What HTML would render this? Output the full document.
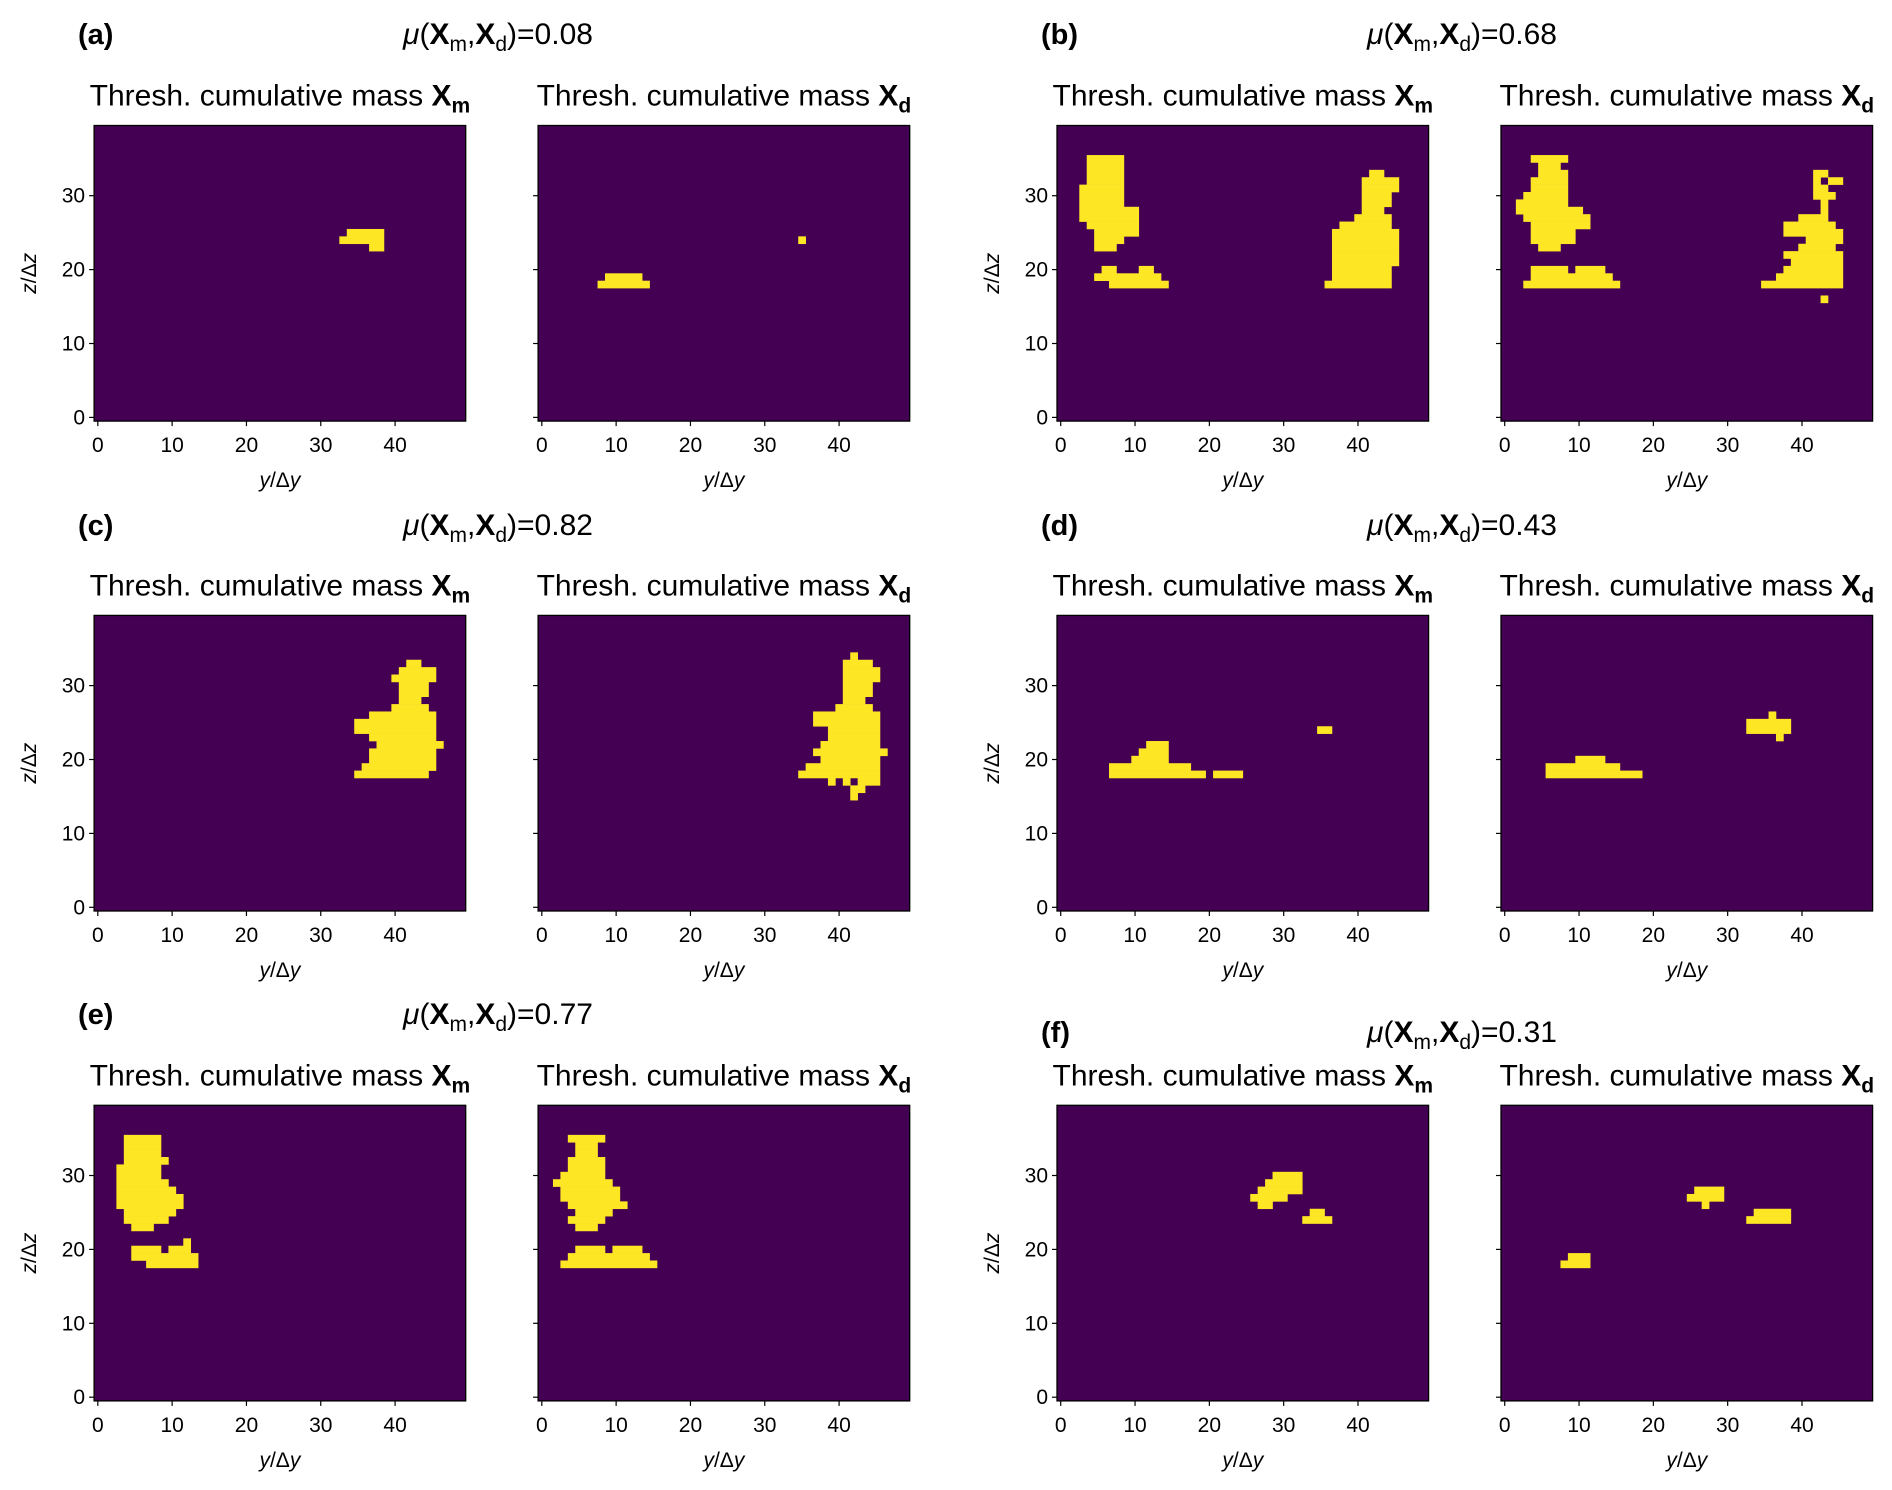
<!DOCTYPE html>
<html><head><meta charset="utf-8"><style>
html,body{margin:0;padding:0;background:#fff;}
svg{display:block;font-family:"Liberation Sans",sans-serif;}
</style></head><body>
<svg id="fig" width="1892" height="1490" viewBox="0 0 1892 1490" xmlns="http://www.w3.org/2000/svg">
<rect width="1892" height="1490" fill="#fff"/>
<g id="panels"></g>
<g font-size="30">
<text x="78" y="44" font-weight="bold" font-size="29">(a)</text>
<text x="498" y="44" text-anchor="middle"><tspan font-style="italic">μ</tspan>(<tspan font-weight="bold">X</tspan><tspan font-size="21" dy="7">m</tspan><tspan dy="-7">,</tspan><tspan font-weight="bold">X</tspan><tspan font-size="21" dy="7">d</tspan><tspan dy="-7">)=0.08</tspan></text>
<text x="1041" y="44" font-weight="bold" font-size="29">(b)</text>
<text x="1462" y="44" text-anchor="middle"><tspan font-style="italic">μ</tspan>(<tspan font-weight="bold">X</tspan><tspan font-size="21" dy="7">m</tspan><tspan dy="-7">,</tspan><tspan font-weight="bold">X</tspan><tspan font-size="21" dy="7">d</tspan><tspan dy="-7">)=0.68</tspan></text>
<text x="78" y="535" font-weight="bold" font-size="29">(c)</text>
<text x="498" y="535" text-anchor="middle"><tspan font-style="italic">μ</tspan>(<tspan font-weight="bold">X</tspan><tspan font-size="21" dy="7">m</tspan><tspan dy="-7">,</tspan><tspan font-weight="bold">X</tspan><tspan font-size="21" dy="7">d</tspan><tspan dy="-7">)=0.82</tspan></text>
<text x="1041" y="535" font-weight="bold" font-size="29">(d)</text>
<text x="1462" y="535" text-anchor="middle"><tspan font-style="italic">μ</tspan>(<tspan font-weight="bold">X</tspan><tspan font-size="21" dy="7">m</tspan><tspan dy="-7">,</tspan><tspan font-weight="bold">X</tspan><tspan font-size="21" dy="7">d</tspan><tspan dy="-7">)=0.43</tspan></text>
<text x="78" y="1024" font-weight="bold" font-size="29">(e)</text>
<text x="498" y="1024" text-anchor="middle"><tspan font-style="italic">μ</tspan>(<tspan font-weight="bold">X</tspan><tspan font-size="21" dy="7">m</tspan><tspan dy="-7">,</tspan><tspan font-weight="bold">X</tspan><tspan font-size="21" dy="7">d</tspan><tspan dy="-7">)=0.77</tspan></text>
<text x="1041" y="1042" font-weight="bold" font-size="29">(f)</text>
<text x="1462" y="1042" text-anchor="middle"><tspan font-style="italic">μ</tspan>(<tspan font-weight="bold">X</tspan><tspan font-size="21" dy="7">m</tspan><tspan dy="-7">,</tspan><tspan font-weight="bold">X</tspan><tspan font-size="21" dy="7">d</tspan><tspan dy="-7">)=0.31</tspan></text>
</g>
</svg>
<script>
// Thresholded masks as runs: [z-row, y-start, y-end] (cell indices)
const aM = [[25,34,38],[24,33,38],[23,37,38]];
const aD = [[19,9,13],[18,8,14],[24,35,35]];
const bM = [[35,4,8],[34,4,8],[33,4,8],[32,4,8],[31,3,8],[30,3,8],[29,3,8],[28,3,10],[27,3,10],[26,4,10],[25,5,10],[24,5,8],[23,5,7],[20,6,7],[20,11,12],[19,5,13],[18,7,14],
 [33,42,43],[32,41,45],[31,41,45],[30,41,44],[29,41,44],[28,41,43],[27,40,44],[26,38,44],[25,37,45],[24,37,45],[23,37,45],[22,37,45],[21,37,45],[20,37,44],[19,37,44],[18,36,44]];
const bD = [[35,4,8],[34,5,7],[33,5,8],[32,4,8],[31,4,8],[30,3,8],[29,2,8],[28,2,10],[27,3,11],[26,4,11],[25,4,9],[24,4,9],[23,5,7],[20,4,8],[20,10,13],[19,4,14],[18,3,15],
 [33,42,43],[32,42,42],[32,44,45],[31,42,43],[30,42,44],[29,43,43],[28,43,43],[27,40,43],[26,38,44],[25,38,45],[24,41,45],[23,40,44],[22,38,45],[21,39,45],[20,38,45],[19,37,45],[18,35,45],[16,43,43]];
const cM = [[33,42,43],[32,41,45],[31,40,45],[30,41,44],[29,41,44],[28,41,43],[27,40,44],[26,37,45],[25,35,45],[24,35,45],[23,37,45],[22,38,46],[21,37,45],[20,37,45],[19,36,45],[18,35,44]];
const cD = [[34,42,42],[33,41,44],[32,41,45],[31,41,45],[30,41,44],[29,41,44],[28,41,43],[27,40,44],[26,37,45],[25,37,45],[24,39,45],[23,39,45],[22,38,45],[21,37,46],[20,38,45],[19,36,45],[18,35,45],[17,39,39],[17,41,41],[17,43,45],[16,42,43],[15,42,42]];
const dM = [[22,12,14],[21,11,14],[20,10,14],[19,7,17],[18,7,19],[18,21,24],[24,35,36]];
const dD = [[26,36,36],[25,33,38],[24,33,38],[23,37,37],[20,10,13],[19,6,15],[18,6,18]];
const eM = [[35,4,8],[34,4,8],[33,4,8],[32,4,9],[31,3,8],[30,3,8],[29,3,9],[28,3,10],[27,3,11],[26,3,11],[25,4,10],[24,4,9],[23,5,7],[21,12,12],[20,5,8],[20,10,12],[19,5,13],[18,7,13]];
const eD = [[35,4,8],[34,5,7],[33,5,7],[32,4,8],[31,4,8],[30,3,8],[29,2,9],[28,3,10],[27,3,10],[26,4,11],[25,5,9],[24,4,8],[23,5,7],[20,5,8],[20,10,13],[19,4,14],[18,3,15]];
const fM = [[30,29,32],[29,28,32],[28,27,32],[27,26,30],[26,27,28],[25,34,35],[24,33,36]];
const fD = [[28,26,29],[27,25,29],[26,27,27],[25,34,38],[24,33,38],[19,9,11],[18,8,11]];
const xTicks = [0,10,20,30,40];
const yTicks = [0,10,20,30];
const nCols = 50, nRows = 40;

const NS = "http://www.w3.org/2000/svg";
const root = document.getElementById('panels');
const colLefts = [94.1, 538.1, 1057, 1501];
const rowTops = [125.5, 615.4, 1105.3];
const W = 371.6, H = 295.6;
const panels = [
  {id:'a', r:0, c:0, m:aM, d:aD}, {id:'b', r:0, c:2, m:bM, d:bD},
  {id:'c', r:1, c:0, m:cM, d:cD}, {id:'d', r:1, c:2, m:dM, d:dD},
  {id:'e', r:2, c:0, m:eM, d:eD}, {id:'f', r:2, c:2, m:fM, d:fD}
];
function mk(tag, attrs, parent){
  const e = document.createElementNS(NS, tag);
  for (const k in attrs) e.setAttribute(k, attrs[k]);
  parent.appendChild(e);
  return e;
}
function drawAxes(left, top, runs, sub, showY, pid){
  const g = mk('g', {}, root);
  
  
  const cw = W / nCols, ch = H / nRows, bottom = top + H;
  const xs = v => left + (v + 0.5) * cw;
  const ys = v => bottom - (v + 0.5) * ch;
  const bg = mk('rect', {x:left, y:top, width:W, height:H, fill:'#440154'}, g);
  
  
  runs.forEach(run => {
    const x0 = xs(run[1] - 0.5), x1 = xs(run[2] + 0.5);
    const y0 = ys(run[0] + 0.5), y1 = ys(run[0] - 0.5);
    const r = mk('rect', {x:x0, y:y0, width:x1 - x0 + 0.3, height:y1 - y0 + 0.3, fill:'#fde725'}, g);
    
    
  });
  const fr = mk('rect', {x:left, y:top, width:W, height:H, fill:'none', stroke:'#000', 'stroke-width':1.3}, g);
  
  
  xTicks.forEach(t => {
    const x = xs(t);
    const tk = mk('line', {x1:x, x2:x, y1:bottom, y2:bottom + 5, stroke:'#000', 'stroke-width':1.2}, g);
    
    
    const tl = mk('text', {x:x, y:bottom + 31, 'text-anchor':'middle', 'font-size':21}, g);
    tl.textContent = t;
    
    
  });
  yTicks.forEach(t => {
    const y = ys(t);
    const tk = mk('line', {x1:left - 5, x2:left, y1:y, y2:y, stroke:'#000', 'stroke-width':1.2}, g);
    
    
    if (showY) {
      const tl = mk('text', {x:left - 9, y:y + 7, 'text-anchor':'end', 'font-size':21}, g);
      tl.textContent = t;
      
      
    }
  });
  const xl = mk('text', {x:left + W/2, y:bottom + 66, 'text-anchor':'middle', 'font-size':21}, g);
  xl.innerHTML = '<tspan font-style="italic">y</tspan>/Δ<tspan font-style="italic">y</tspan>';
  
  
  if (showY) {
    const cy = top + H/2, cx = left - 58;
    const yl = mk('text', {x:cx, y:cy, 'text-anchor':'middle', 'font-size':21, transform:'rotate(-90 ' + cx + ' ' + cy + ')'}, g);
    yl.innerHTML = '<tspan font-style="italic">z</tspan>/Δ<tspan font-style="italic">z</tspan>';
    
    
  }
  const tt = mk('text', {x:left + W/2, y:top - 20, 'text-anchor':'middle', 'font-size':30}, g);
  tt.innerHTML = 'Thresh. cumulative mass <tspan font-weight="bold">X</tspan><tspan font-size="21" font-weight="bold" dy="7">' + sub + '</tspan>';
  
  
}
panels.forEach(p => {
  drawAxes(colLefts[p.c], rowTops[p.r], p.m, 'm', true, p.id);
  drawAxes(colLefts[p.c + 1], rowTops[p.r], p.d, 'd', false, p.id);
});
</script>
</body></html>
